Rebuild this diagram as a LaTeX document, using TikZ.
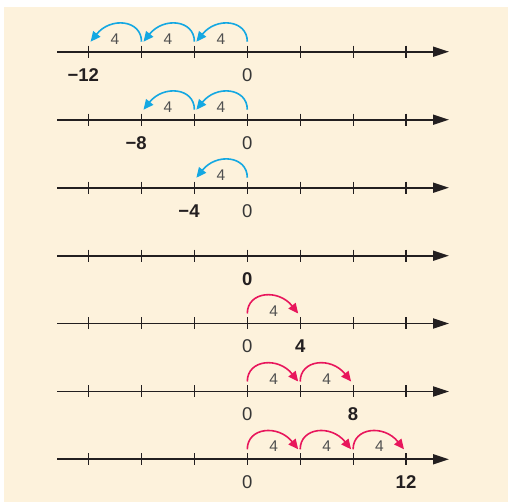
\documentclass[tikz,border=0pt]{standalone}
\usepackage{fontspec}
\setmainfont{Liberation Sans}
\usetikzlibrary{arrows.meta,calc}
\definecolor{cream}{RGB}{253,242,220}
\definecolor{axiscol}{RGB}{35,31,32}
\definecolor{jblue}{RGB}{20,168,226}
\definecolor{jpink}{RGB}{232,22,92}
\definecolor{lblgray}{RGB}{80,80,80}
\definecolor{zerogray}{RGB}{55,55,55}
\tikzset{
  axisline/.style={line width=1.8pt, draw=axiscol, -{Triangle[length=16pt,width=10pt]}},
  tickmark/.style={line width=1.2pt, draw=axiscol},
  leftjump/.style={line width=1.6pt, draw=jblue, -{Triangle[length=10pt,width=9pt]}},
  rightjump/.style={line width=1.6pt, draw=jpink, -{Triangle[length=10pt,width=9pt]}},
  steplbl/.style={inner sep=0pt, text=lblgray, font=\fontsize{15.5}{17}\selectfont},
  zerolbl/.style={inner sep=0pt, text=zerogray, font=\fontsize{18.5}{20}\selectfont},
  targetlbl/.style={inner sep=0pt, text=axiscol, font=\fontsize{18.5}{20}\selectfont\bfseries},
}
\begin{document}
\begin{tikzpicture}[x=1pt,y=-1pt]
\useasboundingbox (0,0) rectangle (512,502);
\fill[cream] (4,7) rectangle (508,502);
% axes and ticks
\foreach \r/\L in {1/51.7,2/119.7,3/187.7,4/255.7,5/323.5,6/391.5,7/459.3}{
  \coordinate (r\r s) at (57,\L);
  \coordinate (r\r e) at (449,\L);
  \draw[axisline] (r\r s) -- (r\r e);
  \foreach \i in {-3,...,3}{
    \coordinate (r\r t\i) at ({247.3+52.9*\i},\L);
    \draw[tickmark] ([yshift=6pt]r\r t\i) -- ([yshift=-6pt]r\r t\i);
  }
}
% leftward jumps (blue)
\foreach \r/\n in {1/3,2/2,3/1}{
  \foreach \j in {1,...,\n}{
    \pgfmathtruncatemacro{\a}{1-\j}
    \pgfmathtruncatemacro{\b}{-\j}
    \draw[leftjump] ([yshift=10pt]r\r t\a) .. controls +(0,-22) and +(20,-25) .. ([yshift=10pt,xshift=2pt]r\r t\b);
    \path ($(r\r t\a)!0.5!(r\r t\b)$) ++(0,-12.7) node[steplbl] (r\r n\j) {4};
  }
}
% rightward jumps (pink)
\foreach \r/\n in {5/1,6/2,7/3}{
  \foreach \j in {1,...,\n}{
    \pgfmathtruncatemacro{\a}{\j-1}
    \pgfmathtruncatemacro{\b}{\j}
    \draw[rightjump] ([yshift=10pt]r\r t\a) .. controls +(0,-22) and +(-20,-25) .. ([yshift=10pt,xshift=-2pt]r\r t\b);
    \path ($(r\r t\a)!0.5!(r\r t\b)$) ++(0,-12.7) node[steplbl] (r\r n\j) {4};
  }
}
% number labels
\node[targetlbl] (r1tl) at ([yshift=-23pt]r1t-3) {\llap{−}12};
\node[zerolbl]   (r1z)  at ([yshift=-23pt]r1t0) {0};
\node[targetlbl] (r2tl) at ([yshift=-23pt]r2t-2) {\llap{−}8};
\node[zerolbl]   (r2z)  at ([yshift=-23pt]r2t0) {0};
\node[targetlbl] (r3tl) at ([yshift=-23pt]r3t-1) {\llap{−}4};
\node[zerolbl]   (r3z)  at ([yshift=-23pt]r3t0) {0};
\node[targetlbl] (r4tl) at ([yshift=-23pt]r4t0) {0};
\node[zerolbl]   (r5z)  at ([yshift=-23pt]r5t0) {0};
\node[targetlbl] (r5tl) at ([yshift=-23pt]r5t1) {4};
\node[zerolbl]   (r6z)  at ([yshift=-23pt]r6t0) {0};
\node[targetlbl] (r6tl) at ([yshift=-23pt]r6t2) {8};
\node[zerolbl]   (r7z)  at ([yshift=-23pt]r7t0) {0};
\node[targetlbl] (r7tl) at ([yshift=-23pt]r7t3) {12};
\end{tikzpicture}
\end{document}
